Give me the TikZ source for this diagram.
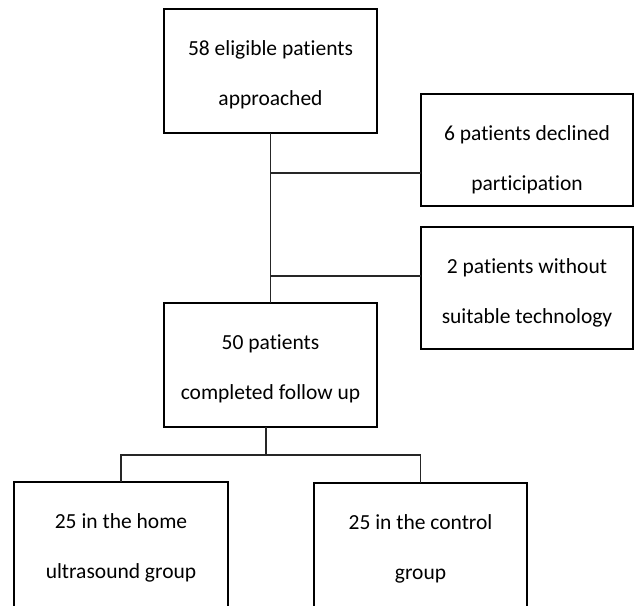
\documentclass[tikz,border=0pt]{standalone}
\usepackage{fontspec}
\setmainfont{Carlito}[Ligatures=NoCommon]
\begin{document}
\begin{tikzpicture}[x=1pt,y=-1pt,
  box/.style={draw=black,line width=1.1pt,inner sep=0pt,outer sep=0pt},
  lbl/.style={anchor=base,inner sep=0pt,font=\fontsize{21.5}{25}\selectfont},
  conn/.style={draw=black!85,line width=1.1pt}]
\useasboundingbox (0,0) rectangle (634,605);
\clip (0,0) rectangle (634,605);
\node[box,minimum width=213pt,minimum height=124pt] (b1) at (270.5,71) {};
\node[box,minimum width=212pt,minimum height=112pt] (b2) at (527,150) {};
\node[box,minimum width=212pt,minimum height=122pt] (b3) at (527,288) {};
\node[box,minimum width=213pt,minimum height=124pt] (b4) at (270.5,365) {};
\node[box,minimum width=214pt,minimum height=160pt] (b5) at (121,562) {};
\node[box,minimum width=213pt,minimum height=160pt] (b6) at (420.5,563) {};
\node[lbl] (t1a) at ([yshift=-46pt]b1.north) {58 eligible patients};
\node[lbl] (t1b) at ([yshift=-96.5pt]b1.north) {approached};
\node[lbl] (t2a) at ([yshift=-46pt]b2.north) {6 patients declined};
\node[lbl] (t2b) at ([yshift=-96.5pt]b2.north) {participation};
\node[lbl] (t3a) at ([yshift=-46pt]b3.north) {2 patients without};
\node[lbl] (t3b) at ([yshift=-96.5pt]b3.north) {suitable technology};
\node[lbl] (t4a) at ([yshift=-46pt]b4.north) {50 patients};
\node[lbl] (t4b) at ([yshift=-96.5pt]b4.north) {completed follow up};
\node[lbl] (t5a) at ([yshift=-46pt]b5.north) {25 in the home};
\node[lbl] (t5b) at ([yshift=-96.5pt]b5.north) {ultrasound group};
\node[lbl] (t6a) at ([yshift=-46pt]b6.north) {25 in the control};
\node[lbl] (t6b) at ([yshift=-96.5pt]b6.north) {group};
\coordinate (j1) at (271,173);
\coordinate (j2) at (271,276);
\coordinate (j3) at (266,455);
\draw[conn] (b1.south) -- (b4.north);
\draw[conn] (j1) -- (j1 -| b2.west);
\draw[conn] (j2) -- (j2 -| b3.west);
\draw[conn] (b4.south -| j3) -- (j3);
\draw[conn] (b5.north) -- (b5.north |- j3) -- (b6.north |- j3) -- (b6.north);
\end{tikzpicture}
\end{document}
